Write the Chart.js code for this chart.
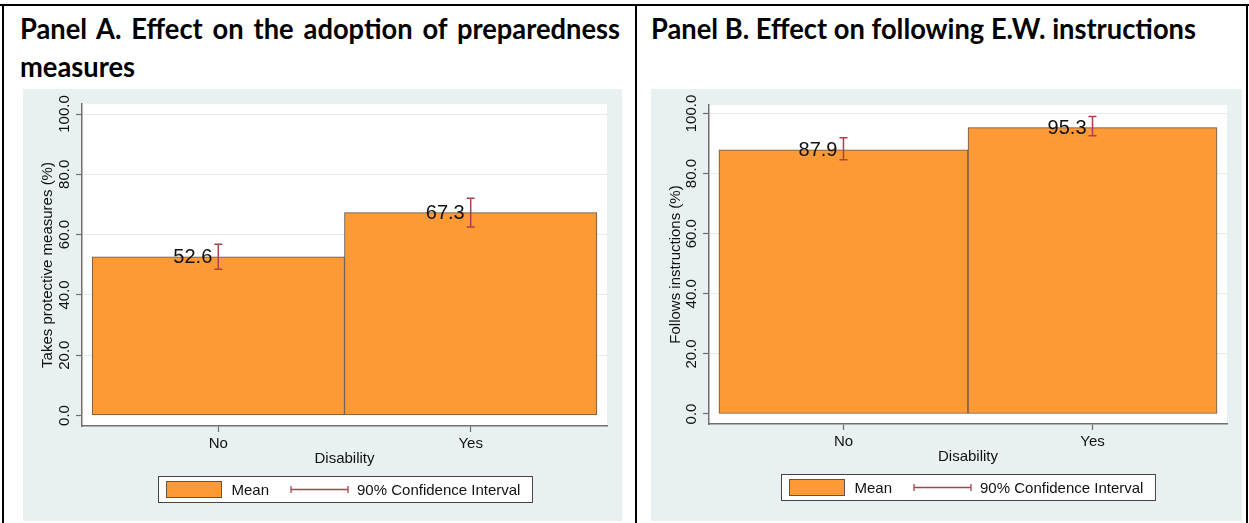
<!DOCTYPE html>
<html>
<head>
<meta charset="utf-8">
<script src="https://cdn.jsdelivr.net/npm/chart.js@4.4.1/dist/chart.umd.min.js"></script>
<style>
  html, body { margin: 0; padding: 0; background: #ffffff; }
  body { width: 1249px; height: 523px; position: relative; overflow: hidden; }
  .rule { position: absolute; background: #000; }
  .title {
    position: absolute; color: #000; white-space: nowrap;
    font-family: Lato, "Liberation Sans", sans-serif; font-weight: 700;
    font-size: 28px; line-height: 38px; transform-origin: 0 0;
  }
  .justify { text-align: justify; text-align-last: justify; }
  canvas { position: absolute; display: block; }
</style>
</head>
<body>
<!-- table frame -->
<div class="rule" style="left:0;top:4px;width:1249px;height:2px"></div>
<div class="rule" style="left:2px;top:4px;width:2px;height:519px"></div>
<div class="rule" style="left:635px;top:4px;width:2px;height:519px"></div>
<div class="rule" style="left:1246px;top:4px;width:2px;height:519px"></div>

<div id="titleA1" class="title justify" style="left:20px;top:9px;">Panel A. Effect on the adoption of preparedness</div>
<div id="titleA2" class="title" style="left:20px;top:47px;">measures</div>
<div id="titleB" class="title" style="left:651px;top:9px;">Panel B. Effect on following E.W. instructions</div>

<canvas id="panelA" width="599" height="432" style="left:23px;top:89px;width:599px;height:432px"></canvas>
<canvas id="panelB" width="591" height="432" style="left:651px;top:89px;width:591px;height:432px"></canvas>

<script>
// ---- data ----
const categories = ['No', 'Yes'];
const yTickValues = [0, 20, 40, 60, 80, 100];
const yTickLabels = ['0.0', '20.0', '40.0', '60.0', '80.0', '100.0'];

// Panel A: takes protective measures (%)
const meansA  = [52.6, 67.3];
const ciLowA  = [48.5, 62.5];
const ciHighA = [56.8, 72.1];

// Panel B: follows instructions (%)
const meansB  = [87.9, 95.3];
const ciLowB  = [84.6, 92.6];
const ciHighB = [91.9, 99.0];

const legendLabels = ['Mean', '90% Confidence Interval'];

// ---- style ----
const FONT = '"Liberation Sans", Arial, sans-serif';
const REGION_BG = '#e9f0f2';
const PLOT_BG = '#ffffff';
const GRID = '#e4ecef';
const AXIS = '#707070';
const ORANGE = '#fe9a36';
const BAR_EDGE = '#5f5448';
const CI_COLOR = '#a6434d';
const TEXT = '#111111';

// fit the panel headings to the column width
(function fitTitles() {
  const c = document.createElement('canvas').getContext('2d');
  c.font = '700 28px Lato, "Liberation Sans", sans-serif';
  const natural = c.measureText('Panel B. Effect on following E.W. instructions').width;
  const s = 545 / natural;
  for (const id of ['titleA1', 'titleA2', 'titleB']) {
    document.getElementById(id).style.transform = 'scaleX(' + s + ')';
  }
  document.getElementById('titleA1').style.width = (600 / s) + 'px';
})();

// plot region fill
const plotRegion = {
  id: 'plotRegion',
  beforeDraw(chart) {
    const { ctx, chartArea: a, width, height } = chart;
    ctx.save();
    ctx.fillStyle = REGION_BG;
    ctx.fillRect(0, 0, width, height);
    ctx.fillStyle = PLOT_BG;
    ctx.fillRect(a.left, a.top, a.right - a.left, a.bottom - a.top);
    ctx.restore();
  }
};

// vertical y tick labels
const verticalYLabels = {
  id: 'verticalYLabels',
  afterDraw(chart) {
    const { ctx, chartArea: a } = chart;
    const y = chart.scales.y;
    ctx.save();
    ctx.font = '15px ' + FONT;
    ctx.fillStyle = TEXT;
    ctx.textAlign = 'center';
    ctx.textBaseline = 'middle';
    y.ticks.forEach((t) => {
      const py = y.getPixelForValue(t.value);
      ctx.save();
      ctx.translate(a.left - 17, py);
      ctx.rotate(-Math.PI / 2);
      ctx.fillText(t.label, 0, 0);
      ctx.restore();
    });
    ctx.restore();
  }
};

// confidence interval whiskers and mean labels
const ciAndLabels = {
  id: 'ciAndLabels',
  afterDatasetsDraw(chart) {
    const { ctx } = chart;
    const ds = chart.data.datasets[0];
    const x = chart.scales.x, y = chart.scales.y;
    ctx.save();
    ds.data.forEach((d, i) => {
      const px = x.getPixelForValue(d.x);
      const pLo = y.getPixelForValue(ds.ciLow[i]);
      const pHi = y.getPixelForValue(ds.ciHigh[i]);
      ctx.strokeStyle = CI_COLOR;
      ctx.lineWidth = 1.5;
      ctx.beginPath();
      ctx.moveTo(px, pLo); ctx.lineTo(px, pHi);
      ctx.moveTo(px - 4, pLo); ctx.lineTo(px + 4, pLo);
      ctx.moveTo(px - 4, pHi); ctx.lineTo(px + 4, pHi);
      ctx.stroke();
      ctx.font = '20px ' + FONT;
      ctx.fillStyle = TEXT;
      ctx.textAlign = 'right';
      ctx.textBaseline = 'middle';
      ctx.fillText(d.y.toFixed(1), px - 6, y.getPixelForValue(d.y) + 1);
    });
    ctx.restore();
  }
};

// boxed legend under the axis title
const boxedLegend = {
  id: 'boxedLegend',
  afterDraw(chart) {
    const { ctx, chartArea: a } = chart;
    const xs = chart.scales.x;
    ctx.save();
    ctx.font = '15px ' + FONT;
    const wMean = ctx.measureText(legendLabels[0]).width;
    const wCI = ctx.measureText(legendLabels[1]).width;
    const w = 8 + 55 + 10 + wMean + 22 + 57 + 9 + wCI + 12;
    const h = 26;
    const left = Math.round((a.left + a.right) / 2 - w / 2) + 0.5;
    const top = Math.round(xs.bottom + 8) + 0.5;
    ctx.fillStyle = '#ffffff';
    ctx.fillRect(left, top, w, h);
    ctx.strokeStyle = '#444444';
    ctx.lineWidth = 1;
    ctx.strokeRect(left, top, w, h);
    // swatch
    let cx = left + 8;
    ctx.fillStyle = ORANGE;
    ctx.fillRect(cx, top + 5, 55, 16);
    ctx.strokeStyle = BAR_EDGE;
    ctx.strokeRect(cx, top + 5, 55, 16);
    cx += 55 + 10;
    ctx.fillStyle = TEXT;
    ctx.textAlign = 'left';
    ctx.textBaseline = 'middle';
    ctx.fillText(legendLabels[0], cx, top + h / 2 + 1);
    cx += wMean + 22;
    // interval symbol
    const my = top + h / 2;
    ctx.strokeStyle = CI_COLOR;
    ctx.lineWidth = 1.3;
    ctx.beginPath();
    ctx.moveTo(cx, my); ctx.lineTo(cx + 57, my);
    ctx.moveTo(cx, my - 3.5); ctx.lineTo(cx, my + 3.5);
    ctx.moveTo(cx + 57, my - 3.5); ctx.lineTo(cx + 57, my + 3.5);
    ctx.stroke();
    cx += 57 + 9;
    ctx.fillText(legendLabels[1], cx, top + h / 2 + 1);
    ctx.restore();
  }
};

function makePanel(id, means, lo, hi, yTitle, g) {
  return new Chart(document.getElementById(id), {
    type: 'bar',
    data: {
      datasets: [{
        label: legendLabels[0],
        data: categories.map((c, i) => ({ x: i, y: means[i] })),
        ciLow: lo,
        ciHigh: hi,
        backgroundColor: ORANGE,
        borderColor: BAR_EDGE,
        borderWidth: 1,
        borderSkipped: false,
        barPercentage: 1,
        categoryPercentage: 1
      }]
    },
    options: {
      responsive: false,
      animation: false,
      devicePixelRatio: 1,
      layout: { padding: { left: 0, top: g.top, right: 15, bottom: g.bottom } },
      plugins: { legend: { display: false }, tooltip: { enabled: false } },
      scales: {
        x: {
          type: 'linear',
          min: -0.54, max: 1.54,
          offset: false,
          afterBuildTicks: (s) => { s.ticks = categories.map((c, i) => ({ value: i })); },
          afterFit: (s) => { s.height = 42; },
          ticks: {
            callback: (v) => categories[v],
            font: { family: FONT, size: 15 }, color: TEXT, padding: 3,
            maxRotation: 0, autoSkip: false
          },
          grid: { display: true, offset: false, drawOnChartArea: false, drawTicks: true, tickLength: 6, tickColor: AXIS, tickWidth: 1.2 },
          border: { display: true, color: AXIS, width: 1.5 },
          title: { display: true, text: 'Disability', font: { family: FONT, size: 15 }, color: TEXT, padding: 0 }
        },
        y: {
          type: 'linear',
          min: g.ymin, max: g.ymax,
          afterBuildTicks: (s) => { s.ticks = yTickValues.map((v) => ({ value: v })); },
          afterFit: (s) => { s.width = g.yw; },
          ticks: { display: false, callback: (v) => yTickLabels[yTickValues.indexOf(v)] },
          grid: {
            color: (c) => (c.tick && c.tick.value === 0 ? 'rgba(0,0,0,0)' : GRID),
            lineWidth: 1, drawTicks: true, tickLength: 6, tickColor: AXIS, tickWidth: 1.2
          },
          border: { display: true, color: AXIS, width: 1.5 },
          title: { display: true, text: yTitle, font: { family: FONT, size: 15 }, color: TEXT, padding: { top: 16, bottom: 0 } }
        }
      }
    },
    plugins: [plotRegion, ciAndLabels, verticalYLabels, boxedLegend]
  });
}

makePanel('panelA', meansA, ciLowA, ciHighA, 'Takes protective measures (%)',
  { top: 15, bottom: 53, yw: 59, ymin: -3.48, ymax: 103.32 });
makePanel('panelB', meansB, ciLowB, ciHighB, 'Follows instructions (%)',
  { top: 16, bottom: 55, yw: 58, ymin: -3.33, ymax: 102.83 });
</script>
</body>
</html>
